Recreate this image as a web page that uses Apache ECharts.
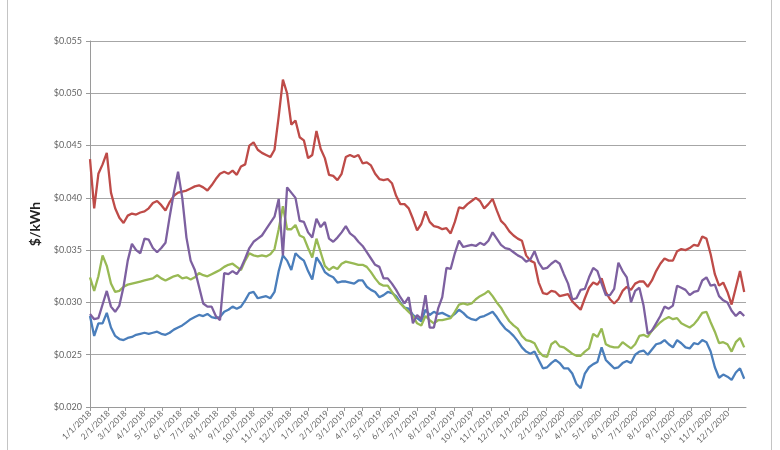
<!DOCTYPE html>
<html>
<head>
<meta charset="utf-8">
<script src="https://cdn.jsdelivr.net/npm/echarts@6/dist/echarts.min.js"></script>
<style>
html,body{margin:0;padding:0;background:#fff;}
#frame{position:absolute;left:7px;top:-2px;width:763px;height:460px;border-left:1.5px solid #c4c4c4;border-right:1.5px solid #c4c4c4;}
#chart{position:absolute;left:0;top:0;width:780px;height:450px;}
</style>
</head>
<body>
<div id="frame"></div>
<div id="chart"></div>
<script>
// Weekly samples starting 1/1/2018 (157 weeks)
const seriesNames = ['Series 1', 'Series 2', 'Series 3', 'Series 4'];
const yTicks = [0.020, 0.025, 0.030, 0.035, 0.040, 0.045, 0.050, 0.055];

const blue = [
0.0287,0.0268,0.0280,0.0280,0.0290,0.0276,0.0268,0.0265,0.0264,0.0266,
0.0267,0.0269,0.0270,0.0271,0.0270,0.0271,0.0272,0.0270,0.0269,0.0271,
0.0274,0.0276,0.0278,0.0281,0.0284,0.0286,0.0288,0.0287,0.0289,0.0286,
0.0285,0.0286,0.0291,0.0293,0.0296,0.0294,0.0296,0.0302,0.0309,0.0310,
0.0304,0.0305,0.0306,0.0304,0.0310,0.0330,0.0345,0.0340,0.0331,0.0347,
0.0343,0.0340,0.0330,0.0322,0.0343,0.0337,0.0329,0.0326,0.0324,0.0319,
0.0320,0.0320,0.0319,0.0318,0.0321,0.0321,0.0315,0.0312,0.0310,0.0305,
0.0307,0.0310,0.0309,0.0306,0.0300,0.0295,0.0294,0.0288,0.0285,0.0282,
0.0293,0.0288,0.0291,0.0289,0.0290,0.0288,0.0286,0.0289,0.0293,0.0290,
0.0286,0.0284,0.0283,0.0286,0.0287,0.0289,0.0291,0.0286,0.0280,0.0275,
0.0272,0.0268,0.0263,0.0257,0.0253,0.0251,0.0253,0.0245,0.0237,0.0238,
0.0242,0.0245,0.0242,0.0237,0.0237,0.0232,0.0222,0.0218,0.0232,0.0238,
0.0241,0.0243,0.0257,0.0245,0.0241,0.0237,0.0238,0.0242,0.0244,0.0242,
0.0250,0.0253,0.0254,0.0250,0.0255,0.0260,0.0261,0.0264,0.0260,0.0257,
0.0264,0.0261,0.0257,0.0256,0.0261,0.0260,0.0264,0.0262,0.0253,0.0238,
0.0228,0.0231,0.0229,0.0226,0.0233,0.0237,0.0227];

const red = [
0.0437,0.0390,0.0423,0.0432,0.0443,0.0405,0.0390,0.0381,0.0376,0.0383,
0.0385,0.0384,0.0386,0.0387,0.0390,0.0395,0.0397,0.0393,0.0388,0.0396,
0.0402,0.0405,0.0406,0.0407,0.0409,0.0411,0.0412,0.0410,0.0407,0.0412,
0.0418,0.0423,0.0425,0.0423,0.0426,0.0422,0.0430,0.0432,0.0450,0.0453,
0.0446,0.0443,0.0441,0.0439,0.0446,0.0478,0.0513,0.0500,0.0470,0.0474,
0.0458,0.0455,0.0438,0.0441,0.0464,0.0447,0.0438,0.0422,0.0421,0.0417,
0.0423,0.0439,0.0441,0.0439,0.0441,0.0433,0.0434,0.0431,0.0423,0.0418,
0.0417,0.0418,0.0414,0.0402,0.0394,0.0394,0.0390,0.0380,0.0369,0.0375,
0.0387,0.0377,0.0373,0.0372,0.0370,0.0371,0.0366,0.0377,0.0391,0.0390,
0.0394,0.0397,0.0400,0.0397,0.0390,0.0394,0.0399,0.0388,0.0378,0.0374,
0.0368,0.0364,0.0361,0.0359,0.0345,0.0340,0.0338,0.0319,0.0309,0.0308,
0.0311,0.0310,0.0306,0.0307,0.0308,0.0301,0.0297,0.0293,0.0304,0.0314,
0.0319,0.0317,0.0323,0.0310,0.0303,0.0299,0.0303,0.0311,0.0315,0.0312,
0.0318,0.0320,0.0320,0.0315,0.0321,0.0330,0.0337,0.0342,0.0340,0.0340,
0.0349,0.0351,0.0350,0.0352,0.0355,0.0354,0.0363,0.0361,0.0346,0.0327,
0.0316,0.0319,0.0310,0.0298,0.0314,0.0330,0.0310];

const green = [
0.0324,0.0311,0.0325,0.0345,0.0335,0.0318,0.0310,0.0311,0.0315,0.0317,
0.0318,0.0319,0.0320,0.0321,0.0322,0.0323,0.0326,0.0323,0.0321,0.0323,
0.0325,0.0326,0.0323,0.0324,0.0322,0.0324,0.0328,0.0326,0.0325,0.0327,
0.0329,0.0331,0.0334,0.0336,0.0337,0.0334,0.0331,0.0340,0.0347,0.0345,
0.0344,0.0345,0.0344,0.0346,0.0351,0.0370,0.0392,0.0370,0.0370,0.0374,
0.0364,0.0362,0.0352,0.0343,0.0361,0.0348,0.0335,0.0331,0.0334,0.0332,
0.0337,0.0339,0.0338,0.0337,0.0336,0.0336,0.0334,0.0329,0.0323,0.0318,
0.0316,0.0316,0.0310,0.0304,0.0299,0.0295,0.0291,0.0287,0.0280,0.0278,
0.0287,0.0283,0.0280,0.0283,0.0283,0.0284,0.0285,0.0291,0.0298,0.0299,
0.0298,0.0299,0.0303,0.0306,0.0308,0.0311,0.0306,0.0300,0.0295,0.0288,
0.0282,0.0278,0.0275,0.0268,0.0264,0.0263,0.0261,0.0253,0.0249,0.0248,
0.0260,0.0263,0.0258,0.0257,0.0254,0.0251,0.0249,0.0249,0.0253,0.0256,
0.0270,0.0267,0.0275,0.0260,0.0258,0.0257,0.0257,0.0262,0.0259,0.0256,
0.0260,0.0268,0.0269,0.0267,0.0273,0.0277,0.0281,0.0284,0.0286,0.0284,
0.0285,0.0280,0.0278,0.0276,0.0279,0.0284,0.0290,0.0291,0.0281,0.0272,
0.0261,0.0262,0.0260,0.0253,0.0262,0.0266,0.0257];

const purple = [
0.0289,0.0284,0.0285,0.0298,0.0311,0.0296,0.0291,0.0297,0.0315,0.0340,
0.0356,0.0350,0.0347,0.0361,0.0360,0.0352,0.0348,0.0352,0.0357,0.0382,
0.0405,0.0425,0.0400,0.0362,0.0340,0.0331,0.0315,0.0299,0.0296,0.0296,
0.0287,0.0283,0.0328,0.0327,0.0330,0.0327,0.0333,0.0342,0.0352,0.0358,
0.0361,0.0364,0.0370,0.0376,0.0382,0.0399,0.0345,0.0410,0.0405,0.0400,
0.0378,0.0377,0.0367,0.0362,0.0380,0.0372,0.0377,0.0361,0.0358,0.0362,
0.0367,0.0373,0.0366,0.0363,0.0358,0.0354,0.0348,0.0342,0.0336,0.0334,
0.0323,0.0323,0.0318,0.0312,0.0305,0.0299,0.0305,0.0280,0.0288,0.0284,
0.0307,0.0276,0.0276,0.0294,0.0305,0.0333,0.0332,0.0347,0.0359,0.0353,
0.0354,0.0355,0.0354,0.0357,0.0355,0.0359,0.0367,0.0361,0.0355,0.0352,
0.0351,0.0348,0.0345,0.0343,0.0339,0.0341,0.0349,0.0338,0.0332,0.0333,
0.0337,0.0340,0.0337,0.0327,0.0318,0.0303,0.0304,0.0312,0.0313,0.0324,
0.0333,0.0330,0.0318,0.0307,0.0307,0.0313,0.0338,0.0330,0.0324,0.0300,
0.0311,0.0314,0.0297,0.0270,0.0273,0.0280,0.0287,0.0296,0.0294,0.0297,
0.0316,0.0314,0.0312,0.0307,0.0310,0.0311,0.0321,0.0324,0.0316,0.0317,
0.0306,0.0302,0.0300,0.0292,0.0287,0.0291,0.0287];

const colors = ['#4A7EBB', '#BE4B48', '#98B954', '#7D60A0'];

// Daily category axis 1/1/2018 .. 12/31/2020
function fmt(t) { const d = new Date(t); return (d.getUTCMonth() + 1) + '/' + d.getUTCDate() + '/' + d.getUTCFullYear(); }
const DAY = 86400000;
const t0 = Date.UTC(2018, 0, 1), t1 = Date.UTC(2020, 11, 31);
const dayCategories = [];
for (let t = t0; t <= t1; t += DAY) dayCategories.push(fmt(t));
const weekDates = blue.map((_, k) => fmt(t0 + 7 * k * DAY));

const isMonthStart = (idx, val) => val.split('/')[1] === '1';
const allSeries = [blue, red, green, purple];

const chart = echarts.init(document.getElementById('chart'));
chart.setOption({
  animation: false,
  backgroundColor: 'transparent',
  grid: { left: 90, right: 34, top: 41, bottom: 43, containLabel: false },
  xAxis: {
    type: 'category',
    data: dayCategories,
    boundaryGap: false,
    axisLine: { lineStyle: { color: '#9a9a9a', width: 1 } },
    axisTick: { show: true, interval: isMonthStart, length: 4, lineStyle: { color: '#9a9a9a' } },
    axisLabel: { interval: isMonthStart, rotate: 45, fontSize: 8.5, color: '#666', margin: 5, fontFamily: 'Lato, sans-serif' },
    splitLine: { show: false }
  },
  yAxis: {
    type: 'value',
    min: yTicks[0], max: yTicks[yTicks.length - 1], interval: 0.005,
    name: '$/kWh', nameLocation: 'middle', nameGap: 44,
    nameTextStyle: { fontSize: 14, fontWeight: 'bold', color: '#222', fontFamily: 'Lato, sans-serif' },
    axisLine: { show: true, lineStyle: { color: '#9a9a9a', width: 1 } },
    axisTick: { show: true, length: 4, lineStyle: { color: '#9a9a9a' } },
    axisLabel: { formatter: v => '$' + v.toFixed(3), fontSize: 9, color: '#666', margin: 8, fontFamily: 'Lato, sans-serif' },
    splitLine: { lineStyle: { color: '#a6a6a6', width: 1 } }
  },
  series: allSeries.map((vals, i) => ({
    name: seriesNames[i],
    type: 'line',
    showSymbol: false,
    symbol: 'none',
    data: weekDates.map((d, k) => [d, vals[k]]),
    lineStyle: { color: colors[i], width: 2.3 },
    itemStyle: { color: colors[i] }
  }))
});
</script>
</body>
</html>
